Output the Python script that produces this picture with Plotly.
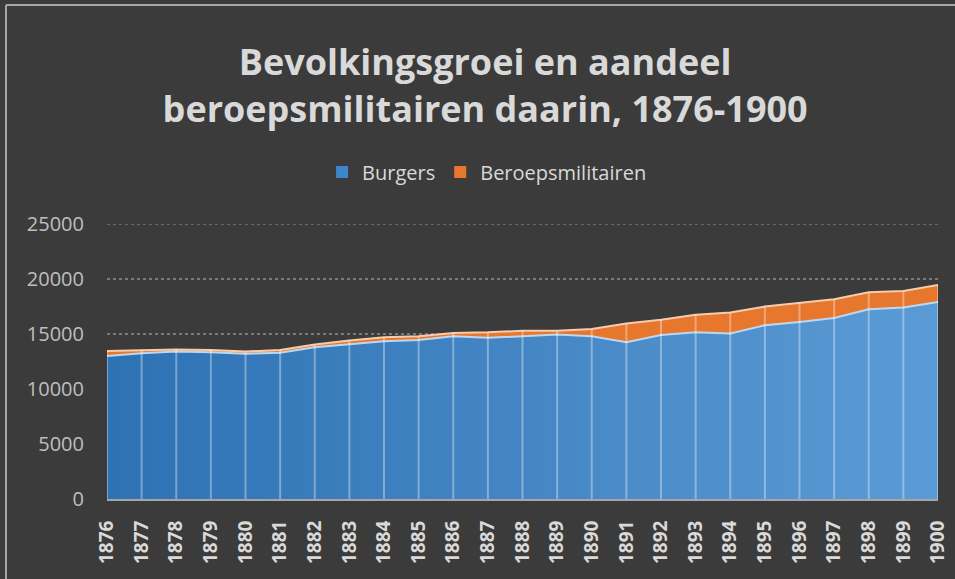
import plotly.graph_objects as go

years = list(range(1876, 1901))
burgers = [13000, 13250, 13400, 13350, 13200, 13300, 13800, 14100, 14350, 14450,
           14800, 14650, 14800, 14950, 14800, 14250, 14900, 15150, 15050, 15800,
           16100, 16450, 17250, 17400, 17900]
militairen = [450, 300, 200, 200, 200, 250, 250, 300, 350, 350,
              300, 500, 500, 350, 650, 1700, 1400, 1600, 1900, 1700,
              1700, 1700, 1550, 1500, 1550]
y_ticks = [0, 5000, 10000, 15000, 20000, 25000]
y_ticktext = ["0", "5000", "10000", "15000", "20000", "25000"]

BG = "#3b3b3b"
FONT = "Open Sans"
GRID = "#7a7a7a"

totals = [b + m for b, m in zip(burgers, militairen)]
drop_x, drop_y = [], []
for yr, t in zip(years, totals):
    drop_x += [yr, yr, None]
    drop_y += [0, t, None]

fig = go.Figure()
fig.add_trace(go.Scatter(
    x=years, y=burgers, name="Burgers", stackgroup="one", mode="lines",
    line=dict(color="#bdd7ee", width=2),
    fillcolor="#3f85c6",
    fillgradient=dict(type="horizontal",
                      colorscale=[[0, "#2e72b4"], [1, "#5b9bd5"]]),
    showlegend=False,
))
fig.add_trace(go.Scatter(
    x=years, y=militairen, name="Beroepsmilitairen", stackgroup="one", mode="lines",
    line=dict(color="#f8cbad", width=2),
    fillcolor="#e8772e",
    showlegend=False,
))
fig.add_trace(go.Scatter(
    x=drop_x, y=drop_y, mode="lines", showlegend=False, hoverinfo="skip",
    line=dict(color="rgba(255,255,255,0.35)", width=2),
))
# legend swatches (square icons like the original)
fig.add_trace(go.Bar(x=[None], y=[None], name="Burgers",
                     marker=dict(color="#3c86cc", line=dict(width=0))))
fig.add_trace(go.Bar(x=[None], y=[None], name="Beroepsmilitairen",
                     marker=dict(color="#e8772e", line=dict(width=0))))

fig.update_layout(
    width=955, height=579,
    paper_bgcolor=BG, plot_bgcolor=BG,
    margin=dict(l=107, r=17, t=224, b=80),
    font=dict(family=FONT, color="#bfbfbf"),
    title=dict(
        text="<b>Bevolkingsgroei en aandeel<br>beroepsmilitairen daarin, 1876-1900</b>",
        x=0.508, xref="container", xanchor="center",
        y=1 - 75 / 579, yref="container", yanchor="top",
        font=dict(family=FONT, size=36, color="#d9d9d9"),
    ),
    legend=dict(
        orientation="h", x=0.51, xref="container", xanchor="center",
        y=1 - 172 / 579, yref="container", yanchor="middle",
        font=dict(family=FONT, size=20, color="#d9d9d9"),
        bgcolor="rgba(0,0,0,0)", traceorder="normal", itemwidth=30,
    ),
    xaxis=dict(
        range=[1876, 1900], tickmode="array", tickvals=years,
        ticktext=[f"<b>{y}</b>" for y in years], tickangle=-90,
        showgrid=False, zeroline=False, automargin=False,
        showline=True, linecolor="#a6a6a6", linewidth=2,
        tickfont=dict(family=FONT, size=19, color="#d9d9d9"),
        ticks="", ticklabelstandoff=12,
    ),
    yaxis=dict(
        range=[0, 25000], tickmode="array", tickvals=y_ticks, ticktext=y_ticktext,
        showgrid=True, gridcolor=GRID, griddash="dot", gridwidth=1.5,
        zeroline=False, showline=False, automargin=False,
        tickfont=dict(family=FONT, size=20, color="#bfbfbf"),
        ticks="", ticklabelstandoff=22,
    ),
    shapes=[
        # top gridline (plotly omits the one on the plot edge)
        dict(type="line", xref="paper", yref="y", layer="below",
             x0=0, x1=1, y0=y_ticks[-1], y1=y_ticks[-1],
             line=dict(color=GRID, width=1.5, dash="dot")),
        dict(type="line", xref="paper", yref="paper",
             x0=(6 - 107) / 831, x1=(6 - 107) / 831,
             y0=(499 - 5) / 275, y1=-0.5,
             line=dict(color="#a6a6a6", width=2)),
        dict(type="line", xref="paper", yref="paper",
             x0=(6 - 107) / 831, x1=1.2,
             y0=(499 - 5) / 275, y1=(499 - 5) / 275,
             line=dict(color="#a6a6a6", width=2)),
    ],
)

fig.write_html(
    "out.html",
    config={"displayModeBar": False},
    post_script="document.body.style.margin='0';document.body.style.overflow='hidden';",
)
